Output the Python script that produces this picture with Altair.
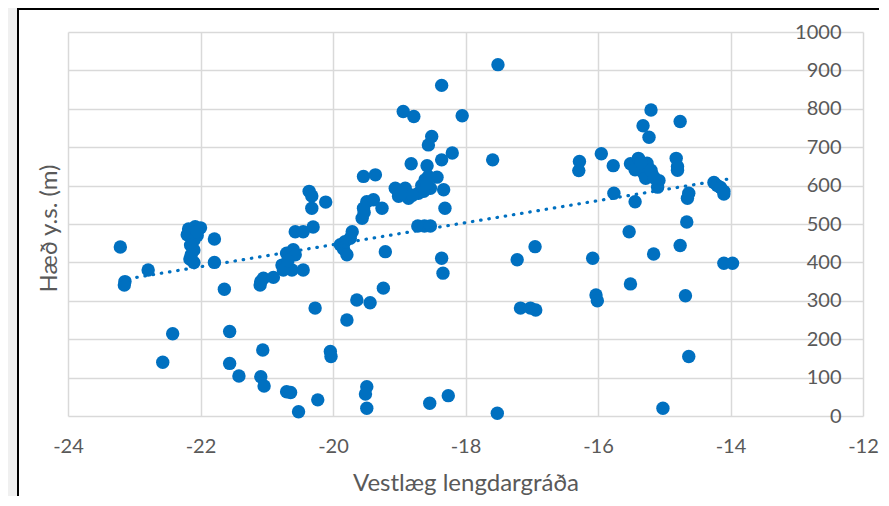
import altair as alt
import pandas as pd

# Longitude (west, negative) and altitude (m a.s.l.)
lon = [
    -23.21, -23.14, -23.15, -22.79,
    -22.18, -22.08, -22.00, -22.12, -22.20, -22.05, -22.10, -22.15, -22.10, -22.14, -22.16, -22.10, -22.05,
    -21.79, -21.79, -21.64, -22.42, -22.57, -21.56, -21.56, -21.42,
    -21.10, -21.09, -21.05, -20.90,
    -20.77, -20.70, -20.60, -20.57, -20.62, -20.45, -20.75, -20.68,
    -20.57, -20.45, -20.30,
    -20.36, -20.32, -20.32, -20.11,
    -20.27, -21.06, -21.09, -21.04, -20.70, -20.64, -20.52, -20.23, -20.04, -20.03,
    -19.79, -19.64, -19.44, -19.24,
    -19.49, -19.51, -19.49,
    -19.89, -19.84, -19.79, -19.71, -19.74, -19.82,
    -19.56, -19.53, -19.49, -19.39, -19.26, -19.54, -19.54, -19.36, -19.21,
    -18.36, -18.94, -18.78, -18.05, -18.51, -18.56, -18.20, -18.36, -18.82, -18.58, -18.56, -18.43, -18.61, -18.33, -18.31,
    -18.72, -18.62, -18.53,
    -19.06, -18.91, -19.01, -18.86, -18.71, -18.63, -18.53, -18.96, -18.80, -18.66, -18.58,
    -18.36, -18.34, -18.54, -18.26, -17.52, -17.51, -17.59,
    -17.22, -16.95, -17.17, -17.02, -16.94,
    -16.08, -16.03, -16.01, -16.28, -16.29, -15.95, -15.77, -15.76, -15.44, -15.53, -15.51,
    -15.20, -15.32, -15.23, -14.76,
    -15.51, -15.39, -15.26, -15.44, -15.31, -15.18, -15.28, -15.08, -15.10, -15.35, -15.20, -15.15,
    -14.82, -14.80, -14.80,
    -14.63, -14.65, -14.66, -14.76, -15.16,
    -14.25, -14.20, -14.15, -14.10, -14.10,
    -14.10, -13.97, -14.68, -14.63, -15.02,
]
alt_m = [
    440, 350, 341, 380,
    487, 493, 490, 478, 472, 470, 458, 445, 432, 420, 409, 400, 480,
    461, 400, 330, 214, 140, 220, 137, 104,
    341, 350, 359, 361,
    393, 424, 433, 420, 380, 380, 380, 405,
    480, 480, 492,
    585, 573, 541, 557,
    281, 172, 102, 78, 63, 61, 11, 42, 168, 155,
    250, 302, 295, 333,
    76, 57, 20,
    446, 435, 420, 480, 463, 454,
    515, 530, 558, 563, 541, 541, 624, 628, 428,
    861, 793, 780, 782, 728, 706, 685, 667, 657, 652, 624, 622, 615, 589, 541,
    495, 495, 495,
    593, 593, 572, 567, 580, 585, 593, 580, 575, 600, 605,
    411, 372, 33, 53, 7, 915, 667,
    407, 441, 281, 281, 276,
    411, 315, 300, 663, 639, 683, 652, 580, 558, 480, 344,
    797, 756, 726, 767,
    657, 671, 658, 641, 632, 628, 619, 613, 596, 660, 640, 620,
    671, 650, 640,
    580, 567, 505, 444, 422,
    608, 600, 595, 585, 578,
    398, 398, 313, 155, 20,
]

# Linear trend line end points
trend_lon = [-23.21, -13.97]
trend_alt = [354, 619]

x_ticks = [-24, -22, -20, -18, -16, -14, -12]
y_ticks = [0, 100, 200, 300, 400, 500, 600, 700, 800, 900, 1000]
x_title = "Vestlæg lengdargráða"
y_title = "Hæð y.s. (m)"

df = pd.DataFrame({"lon": lon, "alt": alt_m})
df_trend = pd.DataFrame({"lon": trend_lon, "alt": trend_alt})
one = pd.DataFrame({"k": [0]})

W, H = 795, 384
PAD_T, PAD_B = 24, 80
BLUE = "#0070C0"
TXT = "#595959"
FONT = "Lato"
TITLE_SIZE = 24

x_scale = alt.Scale(domain=[-24, -12], nice=False, zero=False)
y_scale = alt.Scale(domain=[0, 1000], nice=False, zero=False)


def make_x_axis():
    return alt.Axis(
        values=x_ticks, title=x_title, labelExpr="'-' + abs(datum.value)",
        labelPadding=20, labelOverlap=False, labelFlush=False,
        titleY=74, titleBaseline="alphabetic",
        titleFontSize=TITLE_SIZE, titleFontWeight="normal", titleColor=TXT, titleFont=FONT,
    )


def make_y_axis():
    return alt.Axis(
        values=y_ticks, title=y_title, orient="right", format="d",
        labelAlign="right", labelPadding=-22, labelOverlap=False, labelFlush=False,
        titleAngle=270, titleX=-814, titleY=H / 2 + 4, titleBaseline="middle", titleAlign="center",
        titleFontSize=TITLE_SIZE, titleFontWeight="normal", titleColor=TXT, titleFont=FONT,
    )


strip = alt.Chart(one).mark_rect(color="#f0f0f0").encode(
    x=alt.value(-60), x2=alt.value(-51), y=alt.value(-PAD_T), y2=alt.value(H + PAD_B)
)
top_line = alt.Chart(one).mark_rule(color="black", strokeWidth=2).encode(
    x=alt.value(-50), x2=alt.value(W + 16), y=alt.value(-23)
)
left_line = alt.Chart(one).mark_rule(color="black", strokeWidth=2).encode(
    x=alt.value(-50), y=alt.value(-PAD_T), y2=alt.value(H + PAD_B)
)

points = alt.Chart(df).mark_circle(size=180, color=BLUE, opacity=1).encode(
    x=alt.X("lon:Q", scale=x_scale, axis=make_x_axis()),
    y=alt.Y("alt:Q", scale=y_scale, axis=make_y_axis()),
)

trend = alt.Chart(df_trend).mark_line(
    color=BLUE, strokeWidth=3.2, strokeDash=[0.5, 7.8], strokeCap="round"
).encode(
    x=alt.X("lon:Q", scale=x_scale, axis=make_x_axis()),
    y=alt.Y("alt:Q", scale=y_scale, axis=make_y_axis()),
)

chart = alt.layer(strip, top_line, left_line, points, trend).properties(
    width=W, height=H,
    autosize=alt.AutoSizeParams(type="none"),
    padding={"left": 60, "top": PAD_T, "right": 18, "bottom": PAD_B},
    background="white",
).configure_view(stroke=None).configure_axis(
    grid=True, gridColor="#d9d9d9", gridWidth=1.5, domain=False, ticks=False,
    labelFont=FONT, labelFontSize=20, labelColor=TXT, labelOverlap=False,
)

chart.save("out.html", embed_options={"renderer": "svg", "actions": False})
